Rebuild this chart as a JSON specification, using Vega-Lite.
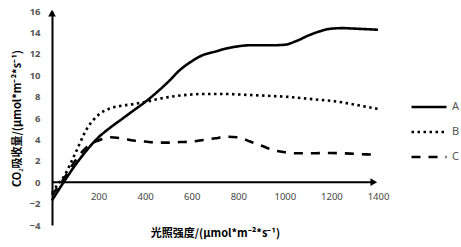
{
  "$schema": "https://vega.github.io/schema/vega-lite/v6.json",
  "autosize": {"type": "none"},
  "padding": {"left": 52, "top": 11, "right": 83, "bottom": 22},
  "width": 326,
  "height": 214,
  "background": "white",
  "config": {
    "view": {"stroke": null},
    "font": "Noto Sans",
    "axisX": {
      "offset": -44,
      "domain": false, "ticks": false, "grid": false,
      "labelFont": "Noto Sans", "labelFontSize": 9.5, "labelColor": "#444",
      "labelPadding": 10, "labelOverlap": false, "labelFlush": false,
      "titleFont": "Noto Sans CJK SC", "titleFontSize": 11, "titleFontWeight": "bold", "titleColor": "black",
      "titlePadding": 27
    },
    "axisY": {
      "domain": true, "domainColor": "black", "domainWidth": 2,
      "ticks": false, "grid": false,
      "labelFont": "Noto Sans", "labelFontSize": 9.5, "labelFontWeight": "bold", "labelColor": "#555",
      "labelPadding": 12, "labelOverlap": false, "labelFlush": false,
      "titleFont": "Noto Sans CJK SC", "titleFontSize": 11, "titleFontWeight": "bold", "titleColor": "black",
      "titlePadding": 7
    }
  },
  "layer": [
    {
      "data": {
        "values": [
          {"light": 0, "rate": -1.7, "series": "A"},
          {"light": 50, "rate": 0.0, "series": "A"},
          {"light": 100, "rate": 1.6, "series": "A"},
          {"light": 150, "rate": 3.0, "series": "A"},
          {"light": 200, "rate": 4.2, "series": "A"},
          {"light": 250, "rate": 5.1, "series": "A"},
          {"light": 300, "rate": 5.9, "series": "A"},
          {"light": 350, "rate": 6.7, "series": "A"},
          {"light": 400, "rate": 7.5, "series": "A"},
          {"light": 450, "rate": 8.4, "series": "A"},
          {"light": 500, "rate": 9.4, "series": "A"},
          {"light": 550, "rate": 10.5, "series": "A"},
          {"light": 600, "rate": 11.3, "series": "A"},
          {"light": 650, "rate": 11.9, "series": "A"},
          {"light": 700, "rate": 12.2, "series": "A"},
          {"light": 750, "rate": 12.5, "series": "A"},
          {"light": 800, "rate": 12.7, "series": "A"},
          {"light": 850, "rate": 12.8, "series": "A"},
          {"light": 900, "rate": 12.8, "series": "A"},
          {"light": 950, "rate": 12.8, "series": "A"},
          {"light": 1000, "rate": 12.85, "series": "A"},
          {"light": 1050, "rate": 13.2, "series": "A"},
          {"light": 1100, "rate": 13.7, "series": "A"},
          {"light": 1150, "rate": 14.1, "series": "A"},
          {"light": 1200, "rate": 14.35, "series": "A"},
          {"light": 1250, "rate": 14.4, "series": "A"},
          {"light": 1300, "rate": 14.35, "series": "A"},
          {"light": 1350, "rate": 14.3, "series": "A"},
          {"light": 1400, "rate": 14.25, "series": "A"},
          {"light": 0, "rate": -1.0, "series": "B"},
          {"light": 25, "rate": -0.2, "series": "B"},
          {"light": 50, "rate": 0.5, "series": "B"},
          {"light": 100, "rate": 2.7, "series": "B"},
          {"light": 150, "rate": 5.0, "series": "B"},
          {"light": 200, "rate": 6.3, "series": "B"},
          {"light": 250, "rate": 6.9, "series": "B"},
          {"light": 300, "rate": 7.15, "series": "B"},
          {"light": 350, "rate": 7.3, "series": "B"},
          {"light": 400, "rate": 7.5, "series": "B"},
          {"light": 450, "rate": 7.75, "series": "B"},
          {"light": 500, "rate": 7.95, "series": "B"},
          {"light": 550, "rate": 8.1, "series": "B"},
          {"light": 600, "rate": 8.2, "series": "B"},
          {"light": 650, "rate": 8.25, "series": "B"},
          {"light": 700, "rate": 8.25, "series": "B"},
          {"light": 750, "rate": 8.25, "series": "B"},
          {"light": 800, "rate": 8.2, "series": "B"},
          {"light": 850, "rate": 8.15, "series": "B"},
          {"light": 900, "rate": 8.1, "series": "B"},
          {"light": 950, "rate": 8.05, "series": "B"},
          {"light": 1000, "rate": 8.0, "series": "B"},
          {"light": 1050, "rate": 7.9, "series": "B"},
          {"light": 1100, "rate": 7.8, "series": "B"},
          {"light": 1150, "rate": 7.7, "series": "B"},
          {"light": 1200, "rate": 7.6, "series": "B"},
          {"light": 1250, "rate": 7.45, "series": "B"},
          {"light": 1300, "rate": 7.25, "series": "B"},
          {"light": 1350, "rate": 7.05, "series": "B"},
          {"light": 1400, "rate": 6.85, "series": "B"},
          {"light": 0, "rate": -1.2, "series": "C"},
          {"light": 50, "rate": 0.3, "series": "C"},
          {"light": 100, "rate": 2.0, "series": "C"},
          {"light": 150, "rate": 3.3, "series": "C"},
          {"light": 200, "rate": 3.9, "series": "C"},
          {"light": 250, "rate": 4.2, "series": "C"},
          {"light": 300, "rate": 4.1, "series": "C"},
          {"light": 350, "rate": 3.9, "series": "C"},
          {"light": 400, "rate": 3.8, "series": "C"},
          {"light": 450, "rate": 3.7, "series": "C"},
          {"light": 500, "rate": 3.7, "series": "C"},
          {"light": 550, "rate": 3.75, "series": "C"},
          {"light": 600, "rate": 3.8, "series": "C"},
          {"light": 650, "rate": 3.95, "series": "C"},
          {"light": 700, "rate": 4.1, "series": "C"},
          {"light": 750, "rate": 4.25, "series": "C"},
          {"light": 800, "rate": 4.2, "series": "C"},
          {"light": 850, "rate": 3.8, "series": "C"},
          {"light": 900, "rate": 3.4, "series": "C"},
          {"light": 950, "rate": 3.0, "series": "C"},
          {"light": 1000, "rate": 2.8, "series": "C"},
          {"light": 1050, "rate": 2.7, "series": "C"},
          {"light": 1100, "rate": 2.7, "series": "C"},
          {"light": 1150, "rate": 2.72, "series": "C"},
          {"light": 1200, "rate": 2.73, "series": "C"},
          {"light": 1250, "rate": 2.7, "series": "C"},
          {"light": 1300, "rate": 2.65, "series": "C"},
          {"light": 1350, "rate": 2.6, "series": "C"},
          {"light": 1400, "rate": 2.57, "series": "C"}
        ]
      },
      "mark": {"type": "line", "interpolate": "monotone", "color": "black", "strokeWidth": 2.6},
      "encoding": {
        "x": {
          "field": "light", "type": "quantitative",
          "scale": {"domain": [0, 1400], "nice": false, "zero": false},
          "axis": {
            "title": "光照强度/(μmol*m⁻²*s⁻¹)",
            "values": [200, 400, 600, 800, 1000, 1200, 1400],
            "format": "d"
          }
        },
        "y": {
          "field": "rate", "type": "quantitative",
          "scale": {"domain": [-4, 16], "nice": false, "zero": false},
          "axis": {
            "title": "CO₂吸收量/(μmol*m⁻²*s⁻¹)",
            "values": [-4, -2, 0, 2, 4, 6, 8, 10, 12, 14, 16]
          }
        },
        "strokeDash": {
          "field": "series", "type": "nominal",
          "scale": {"domain": ["A", "B", "C"], "range": [[1, 0], [2.5, 3.5], [9, 8]]},
          "legend": {
            "title": null,
            "orient": "none",
            "legendX": 358,
            "legendY": 77,
            "symbolType": "stroke",
            "symbolSize": 1225,
            "symbolStrokeWidth": 2.6,
            "symbolStrokeColor": "black",
            "rowPadding": -13.5,
            "labelFont": "Noto Sans", "labelFontSize": 11, "labelColor": "#555",
            "labelOffset": 4
          }
        }
      }
    },
    {
      "data": {"values": [{"x0": 0, "x1": 1380, "y0": 0}]},
      "mark": {"type": "rule", "color": "black", "strokeWidth": 2},
      "encoding": {
        "x": {"field": "x0", "type": "quantitative", "axis": {"title": "光照强度/(μmol*m⁻²*s⁻¹)", "values": [200, 400, 600, 800, 1000, 1200, 1400], "format": "d"}},
        "x2": {"field": "x1"},
        "y": {"field": "y0", "type": "quantitative", "axis": {"title": "CO₂吸收量/(μmol*m⁻²*s⁻¹)", "values": [-4, -2, 0, 2, 4, 6, 8, 10, 12, 14, 16]}}
      }
    },
    {
      "data": {"values": [{"ax": 1382, "ay": 0, "dir": "triangle-right"}, {"ax": 0, "ay": 15.8, "dir": "triangle-up"}]},
      "mark": {"type": "point", "filled": true, "color": "black", "opacity": 1, "size": 60},
      "encoding": {
        "x": {"field": "ax", "type": "quantitative", "axis": {"title": "光照强度/(μmol*m⁻²*s⁻¹)", "values": [200, 400, 600, 800, 1000, 1200, 1400], "format": "d"}},
        "y": {"field": "ay", "type": "quantitative", "axis": {"title": "CO₂吸收量/(μmol*m⁻²*s⁻¹)", "values": [-4, -2, 0, 2, 4, 6, 8, 10, 12, 14, 16]}},
        "shape": {"field": "dir", "type": "nominal", "scale": {"domain": ["triangle-right", "triangle-up"], "range": ["triangle-right", "triangle-up"]}, "legend": null}
      }
    }
  ]
}
